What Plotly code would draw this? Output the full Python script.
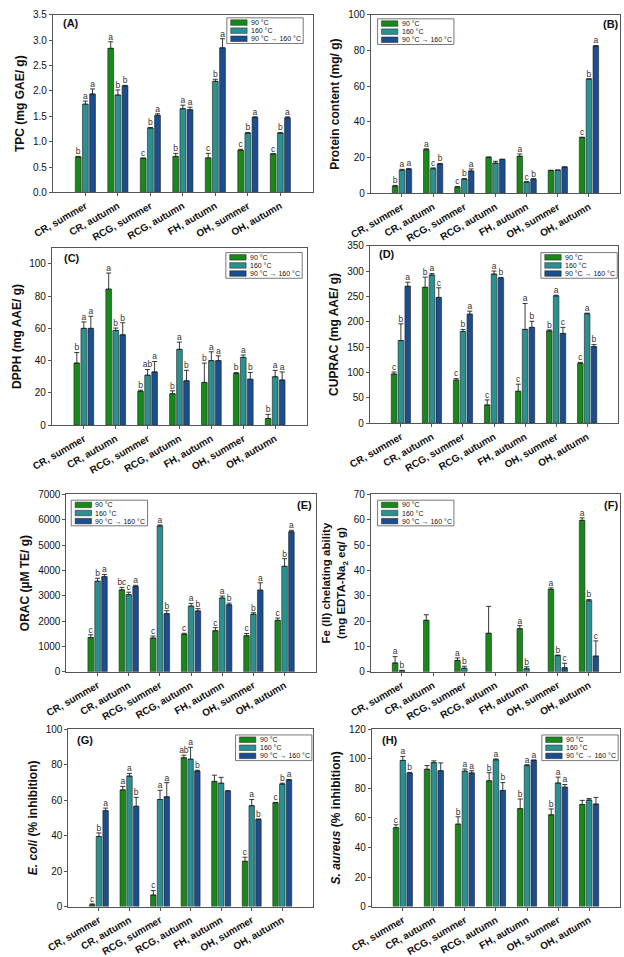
import plotly.graph_objects as go

W, H = 624, 957

sites = ["CR, summer", "CR, autumn", "RCG, summer", "RCG, autumn",
         "FH, autumn", "OH, summer", "OH, autumn"]
temps = ["90 °C", "160 °C", "90 °C → 160 °C"]
colors = ["#18881b", "#2a9090", "#1c4d8e"]

# values per temperature (90, 160, 90->160), one entry per site
tpc = [[0.70, 2.84, 0.67, 0.71, 0.68, 0.83, 0.76],
       [1.74, 1.92, 1.27, 1.65, 2.19, 1.17, 1.17],
       [1.94, 2.10, 1.52, 1.63, 2.85, 1.48, 1.47]]
tpc_err = [[0.01, 0.13, 0.01, 0.06, 0.09, 0.02, 0.0],
           [0.06, 0.10, 0.01, 0.07, 0.04, 0.01, 0.01],
           [0.10, 0.01, 0.03, 0.05, 0.18, 0.01, 0.02]]
tpc_let = [["b", "a", "c", "b", "c", "c", "c"],
           ["a", "b", "b", "a", "b", "b", "b"],
           ["a", "b", "a", "a", "a", "a", "a"]]

protein = [[4.0, 24.5, 3.5, 20.2, 20.8, 12.8, 31.3],
           [13.0, 13.8, 8.0, 17.0, 6.3, 13.0, 64.0],
           [13.5, 16.5, 12.5, 19.0, 8.0, 14.7, 82.5]]
protein_err = [[0.5, 0.5, 0.4, 0.2, 1.3, 0.2, 0.2],
               [0.5, 0.5, 0.3, 1.0, 0.3, 0.1, 0.2],
               [0.5, 0.3, 1.2, 0.2, 0.2, 0.2, 0.3]]
protein_let = [["b", "a", "c", "", "a", "", "c"],
               ["a", "c", "b", "", "c", "", "b"],
               ["a", "b", "a", "", "b", "", "a"]]

dpph = [[38.5, 84.3, 21.0, 19.5, 26.5, 32.0, 4.2],
        [60.0, 58.7, 31.0, 47.0, 40.0, 42.0, 30.0],
        [60.0, 56.0, 33.0, 27.5, 40.0, 28.5, 28.0]]
dpph_err = [[6.5, 10.0, 0.7, 1.8, 12.0, 0.6, 2.5],
            [4.0, 1.5, 3.5, 4.5, 5.5, 1.5, 4.0],
            [7.5, 7.5, 6.5, 6.5, 3.0, 4.2, 5.0]]
dpph_let = [["b", "a", "b", "b", "b", "b", "b"],
            ["a", "b", "ab", "a", "a", "a", "a"],
            ["a", "b", "a", "b", "a", "b", "a"]]

cuprac = [[97, 268, 85, 36, 63, 182, 118],
          [163, 292, 181, 294, 185, 251, 216],
          [270, 248, 215, 286, 189, 177, 151]]
cuprac_err = [[4, 20, 3, 10, 14, 2, 2],
              [33, 3, 4, 6, 51, 1.5, 1],
              [8, 19, 6, 1.5, 12, 12, 4]]
cuprac_let = [["c", "b", "c", "c", "c", "b", "c"],
              ["b", "a", "b", "a", "a", "a", "a"],
              ["a", "c", "a", "b", "b", "c", "b"]]

orac = [[1350, 3230, 1330, 1480, 1620, 1420, 2030],
        [3570, 3040, 5750, 2590, 2910, 2270, 4160],
        [3750, 3360, 2290, 2400, 2640, 3220, 5520]]
orac_err = [[110, 100, 80, 40, 120, 90, 90],
            [120, 100, 40, 110, 80, 60, 300],
            [90, 50, 120, 90, 70, 290, 60]]
orac_let = [["c", "bc", "c", "c", "c", "c", "c"],
            ["b", "c", "a", "a", "a", "b", "b"],
            ["a", "a", "b", "b", "b", "a", "a"]]

fe = [[3.5, 20.3, 4.5, 15.2, 17.0, 32.5, 59.7],
      [0.4, None, 1.4, None, 1.2, 6.4, 28.0],
      [None, None, None, None, None, 1.6, 6.2]]
fe_err = [[2.5, 2.2, 1.0, 10.6, 1.2, 0.6, 1.0],
          [0.2, 0, 0.8, 0, 0.8, 0.2, 0.5],
          [0, 0, 0, 0, 0, 1.8, 6.0]]
fe_let = [["a", "", "a", "", "a", "a", "a"],
          ["b", "", "b", "", "b", "b", "b"],
          ["", "", "", "", "", "c", "c"]]

ecoli = [[1.0, 65.7, 6.5, 83.8, 70.5, 25.5, 58.5],
         [39.5, 73.5, 60.3, 83.0, 69.5, 56.8, 69.0],
         [54.0, 56.5, 61.8, 76.3, 65.0, 49.2, 71.3]]
ecoli_err = [[0.5, 2.0, 2.5, 1.5, 3.5, 2.3, 0.2],
             [2.0, 1.5, 5.2, 6.7, 3.3, 3.5, 0.5],
             [1.5, 5.0, 8.0, 0.5, 0.3, 0.0, 0.3]]
ecoli_let = [["c", "a", "c", "ab", "", "c", "c"],
             ["b", "a", "a", "a", "", "a", "b"],
             ["a", "b", "a", "b", "", "b", "a"]]

saureus = [[53.3, 92.8, 55.7, 85.0, 66.2, 62.0, 69.0],
           [98.8, 97.3, 91.5, 99.2, 95.3, 83.5, 72.0],
           [90.2, 91.8, 90.3, 78.5, 98.8, 80.7, 69.3]]
saureus_err = [[2.0, 2.5, 5.0, 5.5, 6.5, 4.0, 2.8],
               [2.7, 1.2, 1.5, 0.6, 0.6, 4.0, 1.0],
               [0.5, 5.3, 1.5, 5.3, 0.3, 1.8, 4.5]]
saureus_let = [["c", "", "b", "b", "b", "b", ""],
               ["a", "", "a", "a", "a", "a", ""],
               ["b", "", "a", "b", "a", "a", ""]]

# panel: data, err, letters, y title, y range, dtick, tick format, label, label pos, plot box px, legend px
panels = [
    (tpc, tpc_err, tpc_let, "TPC (mg GAE/ g)", 3.5, 0.5, ".1f",
     "(A)", (0.07, 0.955), (33, 9, 302, 189), (213, 12)),
    (protein, protein_err, protein_let, "Protein content (mg/ g)", 100, 20, "d",
     "(B)", (0.965, 0.95), (362, 9, 620, 190), (369, 13)),
    (dpph, dpph_err, dpph_let, "DPPH (mg AAE/ g)", 110, 20, "d",
     "(C)", (0.08, 0.94), (32, 245, 296, 425), (212, 250)),
    (cuprac, cuprac_err, cuprac_let, "CUPRAC (mg AAE/ g)", 350, 50, "d",
     "(D)", (0.07, 0.955), (361, 243, 618, 423), (538, 250)),
    (orac, orac_err, orac_let, "ORAC (µM TE/ g)", 7000, 1000, "d",
     "(E)", (0.955, 0.94), (47, 495, 305, 675), (52, 501)),
    (fe, fe_err, fe_let, "Fe (II) chelating ability<br>(mg EDTA-Na<sub>2</sub> eq/ g)", 70, 10, "d",
     "(F)", (0.965, 0.94), (362, 495, 620, 675), (369, 501)),
    (ecoli, ecoli_err, ecoli_let, "<i>E. coli</i> (% inhibition)", 100, 20, "d",
     "(G)", (0.07, 0.94), (49, 733, 302, 913), (222, 739)),
    (saureus, saureus_err, saureus_let, "<i>S. aureus</i> (% inhibition)", 120, 20, "d",
     "(H)", (0.075, 0.94), (363, 733, 620, 913), (539, 739)),
]

FONT = "Arial, Liberation Sans, sans-serif"
offsets = [-0.22, 0.0, 0.22]
fig = go.Figure()
shapes = []
annots = []

for i, (vals, errs, lets, ytitle, ymax, dt, fmt, lab, labpos, box, leg) in enumerate(panels, start=1):
    xa = "x" if i == 1 else f"x{i}"
    ya = "y" if i == 1 else f"y{i}"
    for j in range(3):
        xs = [k + offsets[j] for k in range(len(sites))]
        fig.add_trace(go.Bar(
            x=xs, y=vals[j], width=0.18, xaxis=xa, yaxis=ya,
            marker=dict(color=colors[j], line=dict(color="#222", width=0.6)),
            error_y=dict(type="data", array=errs[j], arrayminus=[0] * len(errs[j]),
                         symmetric=False, color="#222", thickness=0.9, width=2.5),
            showlegend=False, hoverinfo="skip"))
        tops = [(v + e) if v is not None else 0 for v, e in zip(vals[j], errs[j])]
        fig.add_trace(go.Scatter(
            x=xs, y=tops, mode="text", text=[t if t else " " for t in lets[j]],
            textposition="top center",
            textfont=dict(size=8.5, color="#333", family=FONT),
            xaxis=xa, yaxis=ya, showlegend=False, hoverinfo="skip", cliponaxis=False))

    x0, y0, x1, y1 = box
    axis_common = dict(showline=True, mirror=True, linecolor="#555", linewidth=1,
                       showgrid=False, zeroline=False, ticks="outside",
                       tickcolor="#555", ticklen=3)
    fig.layout[("xaxis" if i == 1 else f"xaxis{i}")] = dict(
        domain=[x0 / W, x1 / W], anchor=ya, range=[-1, 7],
        tickvals=list(range(len(sites))), ticktext=sites, tickangle=-30,
        tickfont=dict(size=10, family=FONT, weight="bold", color="#111"),
        **axis_common)
    fig.layout[("yaxis" if i == 1 else f"yaxis{i}")] = dict(
        domain=[1 - y1 / H, 1 - y0 / H], anchor=xa, range=[0, ymax],
        dtick=dt, tick0=0, tickformat=fmt,
        tickfont=dict(size=10, family=FONT, color="#111"),
        title=dict(text=ytitle, standoff=5,
                   font=dict(size=12 if i != 6 else 11.5, family=FONT, weight="bold", color="#111")),
        **axis_common)

    annots.append(dict(text=lab, xref=f"{xa} domain", yref=f"{ya} domain",
                       x=labpos[0], y=labpos[1], showarrow=False,
                       xanchor="center", yanchor="middle",
                       font=dict(size=11, family=FONT, weight="bold", color="#111")))

    # legend box
    lx, ty = leg
    lw, lh = 79, 26
    shapes.append(dict(type="rect", xref="paper", yref="paper",
                       x0=lx / W, x1=(lx + lw) / W, y0=1 - (ty + lh) / H, y1=1 - ty / H,
                       line=dict(color="#555", width=0.8), fillcolor="white"))
    for j, t in enumerate(temps):
        cy = ty + 4.8 + j * 8.2
        shapes.append(dict(type="rect", xref="paper", yref="paper",
                           x0=(lx + 4) / W, x1=(lx + 21) / W,
                           y0=1 - (cy + 2.8) / H, y1=1 - (cy - 2.8) / H,
                           line=dict(color="#222", width=0.5), fillcolor=colors[j]))
        annots.append(dict(text=t, xref="paper", yref="paper",
                           x=(lx + 23) / W, y=1 - cy / H, showarrow=False,
                           xanchor="left", yanchor="middle",
                           font=dict(size=7, family=FONT, color="#111")))

fig.update_layout(
    width=W, height=H, margin=dict(l=0, r=0, t=0, b=0),
    plot_bgcolor="white", paper_bgcolor="white",
    barmode="overlay", shapes=shapes, annotations=annots,
    font=dict(family=FONT),
)

fig.write_html("out.html", config={"displayModeBar": False},
               post_script="document.body.style.margin='0';document.body.style.overflow='hidden';")
